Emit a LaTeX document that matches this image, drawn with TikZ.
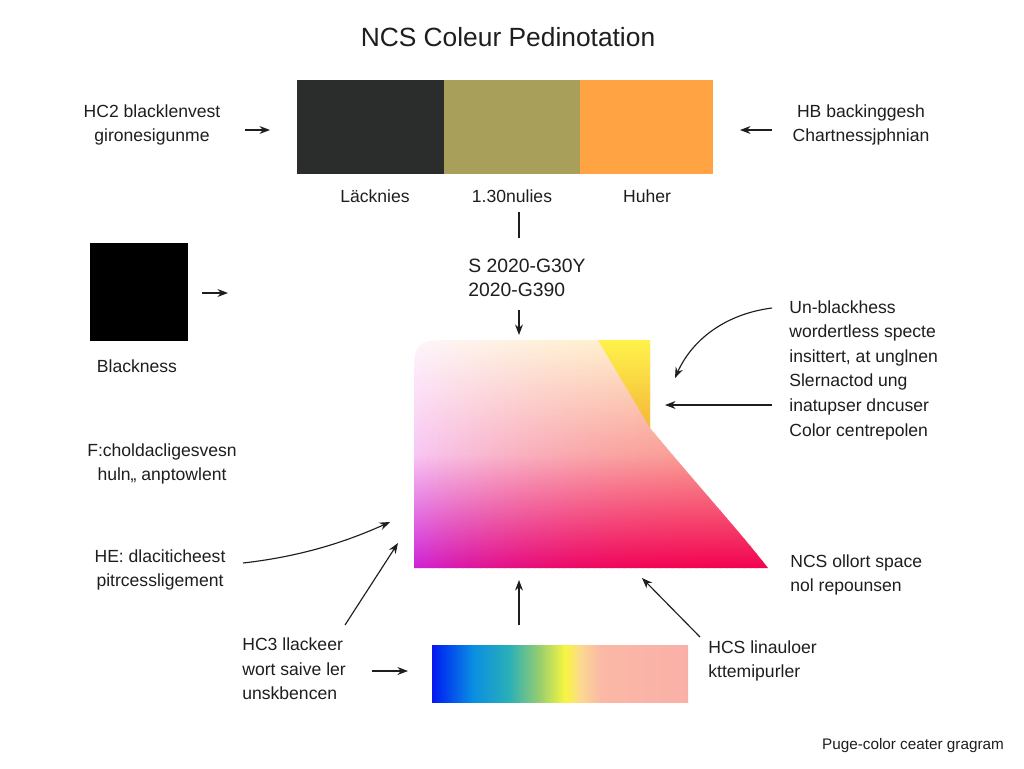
\documentclass[tikz,border=0pt]{standalone}
\usepackage{fontspec}
\setmainfont{Liberation Sans}
\usetikzlibrary{arrows.meta}
\definecolor{ink}{HTML}{1E1E1E}
\definecolor{bardark}{HTML}{2B2C2C}
\definecolor{barolive}{HTML}{A8A05A}
\definecolor{barorange}{HTML}{FFA343}
\definecolor{gtopL}{HTML}{FEF6FB}
\definecolor{gtopR}{HTML}{FFF0C4}
\definecolor{gmidL}{HTML}{F8C6F2}
\definecolor{gmidR}{HTML}{FA9C90}
\definecolor{gbotL}{HTML}{CE1ED2}
\definecolor{gbotR}{HTML}{F20050}
\definecolor{yelltop}{HTML}{FFF24A}
\definecolor{yellbot}{HTML}{F4B73A}
\definecolor{specA}{HTML}{0818EE}
\definecolor{specB}{HTML}{0030F0}
\definecolor{specC}{HTML}{0A8EE2}
\definecolor{specD}{HTML}{2AAFB8}
\definecolor{specE}{HTML}{98CE6E}
\definecolor{specF}{HTML}{F6F640}
\definecolor{specG}{HTML}{FCD890}
\definecolor{specH}{HTML}{FBB8A6}
\definecolor{specI}{HTML}{FAB0A8}
\pgfdeclarehorizontalshading{ncsspectrum}{100bp}{color(0bp)=(specA); color(25bp)=(specA); color(26.5bp)=(specB); color(33bp)=(specC); color(40bp)=(specD); color(46bp)=(specE); color(51bp)=(specF); color(54bp)=(specG); color(58bp)=(specH); color(75bp)=(specI); color(100bp)=(specI)}
\tikzset{%
  lbl/.style={font=\fontsize{10}{14}\selectfont, text=ink, inner sep=0pt},%
  arr/.style={-{Stealth[length=6pt,width=4.5pt]}, line width=0.65pt, draw=ink},%
}
\begin{document}
\begin{tikzpicture}[x=0.02cm,y=-0.02cm]
        \useasboundingbox[fill=white] (0,0) rectangle (1024,768);%
        \node[lbl, font=\fontsize{15}{18}\selectfont] (title) at (508,37) {NCS Coleur Pedinotation};%
        \fill[bardark] (297,80) rectangle (444,174);%
        \fill[barolive] (444,80) rectangle (580,174);%
        \fill[barorange] (580,80) rectangle (713,174);%
        \node[lbl, align=center] (hctwo) at (152,125) {HC2 blacklenvest\\gironesigunme};%
        \node[lbl, align=center] (hb) at (861,125) {HB backinggesh\\Chartnessjphnian};%
        \node[lbl] (lack) at (375,196) {Läcknies};%
        \node[lbl] (nulies) at (512,196) {1.30nulies};%
        \node[lbl] (huher) at (647,196) {Huher};%
        \node[lbl, anchor=west, align=left, font=\fontsize{11}{14}\selectfont] (code) at (468,278) {S 2020-G30Y\\2020-G390};%
        \fill[black] (90,243) rectangle (188,341);%
        \node[lbl] (blackness) at (137,366) {Blackness};%
        \node[lbl, align=center] (fchol) at (162,464) {F:choldacligesvesn\\huln,, anptowlent};%
        \node[lbl, align=center] (hedl) at (160,570) {HE: dlaciticheest\\pitrcessligement};%
        \node[lbl, anchor=west, align=left] (hcthree) at (242,669) {HC3 llackeer\\wort saive ler\\unskbencen};%
        \node[lbl, anchor=west, align=left] (hcs) at (708,661) {HCS linauloer\\kttemipurler};%
        \node[lbl, anchor=west, align=left] (ncs) at (790,575) {NCS ollort space\\nol repounsen};%
        \node[lbl, anchor=west, align=left] (unblack) at (789,370) {Un-blackhess\\wordertless specte\\insittert, at unglnen\\Slernactod ung\\inatupser dncuser\\Color centrepolen};%
        \node[lbl, font=\fontsize{8.7}{10}\selectfont] (footer) at (913,746) {Puge-color ceater gragram};%
        \begin{scope}
          \clip (414,568) -- (414,384) .. controls (414,340) .. (458,340) -- (650,340) -- (650,428) .. controls (700,488) and (740,532) .. (768,568) -- cycle;%
          \foreach \i in {0,...,59} {%
            \pgfmathtruncatemacro\q{100*(1-\i/59)^2}%
            \pgfmathtruncatemacro\qb{100*(1-\i/59)^3}%
            \shade[top color=gtopL!\q!gtopR, bottom color=gbotL!\qb!gbotR, middle color=gmidL!\q!gmidR] (414+6*\i,338) rectangle (421+6*\i,570);%
          }
        \end{scope}
        \shade[top color=yelltop, bottom color=yellbot] (598,340) -- (650,340) -- (650,428) -- cycle;%
        \shade[shading=ncsspectrum] (432,645) rectangle (688,702);%
        \coordinate (a1s) at (245,130); \coordinate (a1e) at (270,130);%
        \coordinate (a2s) at (772,130); \coordinate (a2e) at (740,130);%
        \coordinate (a3s) at (202,293); \coordinate (a3e) at (228,293);%
        \coordinate (v1s) at (519,212); \coordinate (v1e) at (519,238);%
        \coordinate (v2s) at (519,310); \coordinate (v2e) at (519,335);%
        \coordinate (u1s) at (772,308); \coordinate (u1e) at (675,378);%
        \coordinate (u2s) at (772,405); \coordinate (u2e) at (665,405);%
        \coordinate (l1s) at (243,563); \coordinate (l1e) at (390,522);%
        \coordinate (l2s) at (345,625); \coordinate (l2e) at (398,543);%
        \coordinate (b1s) at (519,625); \coordinate (b1e) at (519,580);%
        \coordinate (b2s) at (700,637); \coordinate (b2e) at (642,578);%
        \coordinate (b3s) at (372,671); \coordinate (b3e) at (408,671);%
        \draw[arr] (a1s) -- (a1e);%
        \draw[arr] (a2s) -- (a2e);%
        \draw[arr] (a3s) -- (a3e);%
        \draw[line width=0.65pt, ink] (v1s) -- (v1e);%
        \draw[arr] (v2s) -- (v2e);%
        \draw[arr] (u1s) .. controls (725,314) and (692,340) .. (u1e);%
        \draw[arr] (u2s) -- (u2e);%
        \draw[arr] (l1s) .. controls (305,556) and (350,540) .. (l1e);%
        \draw[arr] (l2s) -- (l2e);%
        \draw[arr] (b1s) -- (b1e);%
        \draw[arr] (b2s) -- (b2e);%
        \draw[arr] (b3s) -- (b3e);%
      \end{tikzpicture}
\end{document}
